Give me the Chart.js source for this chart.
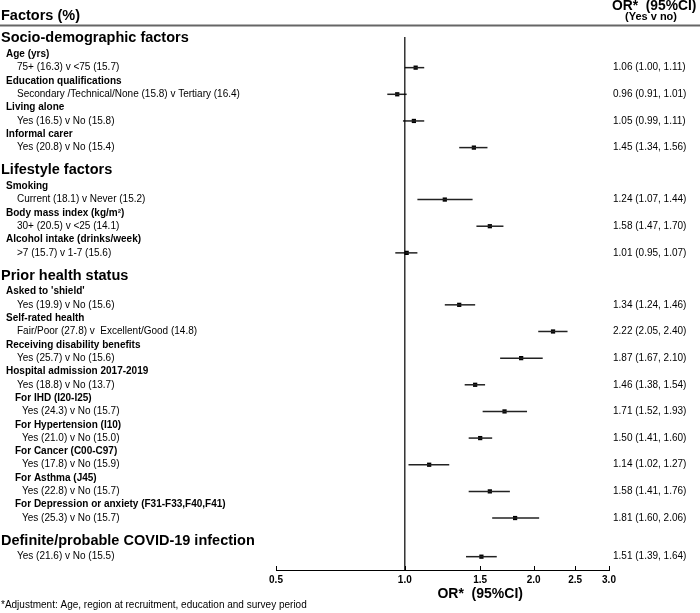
<!DOCTYPE html>
<html>
<head>
<meta charset="utf-8">
<script src="https://cdn.jsdelivr.net/npm/chart.js@4"></script>
<style>
  body { margin: 0; background: #fff; }
</style>
</head>
<body>
<canvas id="forest" width="700" height="613"></canvas>
<script>
const sections = ["Socio-demographic factors", "Lifestyle factors", "Prior health status", "Definite/probable COVID-19 infection"];
const groupLabels = [
    "Age (yrs)", "Education qualifications", "Living alone", "Informal carer",
    "Smoking", "Body mass index (kg/m²)", "Alcohol intake (drinks/week)",
    "Asked to 'shield'", "Self-rated health", "Receiving disability benefits", "Hospital admission 2017-2019",
    "For IHD (I20-I25)", "For Hypertension (I10)", "For Cancer (C00-C97)", "For Asthma (J45)",
    "For Depression or anxiety (F31-F33,F40,F41)",
    "",
];
const comparisons = [
    "75+ (16.3) v <75 (15.7)",
    "Secondary /Technical/None (15.8) v Tertiary (16.4)",
    "Yes (16.5) v No (15.8)",
    "Yes (20.8) v No (15.4)",
    "Current (18.1) v Never (15.2)",
    "30+ (20.5) v <25 (14.1)",
    ">7 (15.7) v 1-7 (15.6)",
    "Yes (19.9) v No (15.6)",
    "Fair/Poor (27.8) v  Excellent/Good (14.8)",
    "Yes (25.7) v No (15.6)",
    "Yes (18.8) v No (13.7)",
    "Yes (24.3) v No (15.7)",
    "Yes (21.0) v No (15.0)",
    "Yes (17.8) v No (15.9)",
    "Yes (22.8) v No (15.7)",
    "Yes (25.3) v No (15.7)",
    "Yes (21.6) v No (15.5)",
];
const sectionIndex = [0, 0, 0, 0, 1, 1, 1, 2, 2, 2, 2, 2, 2, 2, 2, 2, 3];
const subLevel = [0, 0, 0, 0, 0, 0, 0, 0, 0, 0, 0, 1, 1, 1, 1, 1, 0];
const oddsRatio = [1.06, 0.96, 1.05, 1.45, 1.24, 1.58, 1.01, 1.34, 2.22, 1.87, 1.46, 1.71, 1.50, 1.14, 1.58, 1.81, 1.51];
const ciLower = [1.00, 0.91, 0.99, 1.34, 1.07, 1.47, 0.95, 1.24, 2.05, 1.67, 1.38, 1.52, 1.41, 1.02, 1.41, 1.60, 1.39];
const ciUpper = [1.11, 1.01, 1.11, 1.56, 1.44, 1.70, 1.07, 1.46, 2.40, 2.10, 1.54, 1.93, 1.60, 1.27, 1.76, 2.06, 1.64];
const xTicks = [0.5, 1.0, 1.5, 2.0, 2.5, 3.0];

const FONT = "'Liberation Sans', Arial, sans-serif";
const Y_MIN = -0.1;
const Y_MAX = 39.9;

// 텍스트 줄 위치 계산 (줄 단위)
const lines = [];
const itemY = [];
let pos = 0;
let cur = -1;
comparisons.forEach((text, i) => {
    let gap = 1;
    if (sectionIndex[i] !== cur) {
        pos = cur < 0 ? 0 : pos + 1.7;
        cur = sectionIndex[i];
        lines.push({ text: sections[cur], kind: "section", y: pos });
        gap = 1.2;
    }
    if (groupLabels[i]) {
        pos += gap;
        gap = 1;
        lines.push({ text: groupLabels[i], kind: "group", sub: subLevel[i], y: pos });
    }
    pos += gap;
    itemY.push(pos);
    lines.push({ text: text, kind: "item", sub: subLevel[i], y: pos });
});

const ciSets = oddsRatio.map((v, i) => ({
    type: "line",
    data: [
        { x: ciLower[i], y: itemY[i] },
        { x: ciUpper[i], y: itemY[i] },
    ],
    borderColor: "#222",
    borderWidth: 1.5,
    pointRadius: 0,
}));

const forestText = {
    id: "forestText",
    afterDraw(chart) {
        const { ctx, chartArea } = chart;
        const x = chart.scales.x;
        const y = chart.scales.y;
        ctx.save();
        ctx.fillStyle = "#000";

        // 헤더
        ctx.textBaseline = "middle";
        ctx.font = "bold 14.5px " + FONT;
        ctx.textAlign = "left";
        ctx.fillText("Factors (%)", 1, 16);
        ctx.textBaseline = "alphabetic";
        ctx.font = "bold 13.8px " + FONT;
        ctx.fillText("OR*  (95%CI)", 612, 9.5);
        ctx.font = "bold 11px " + FONT;
        ctx.textAlign = "center";
        ctx.fillText("(Yes v no)", 651, 20);
        ctx.strokeStyle = "#666";
        ctx.lineWidth = 2;
        ctx.beginPath();
        ctx.moveTo(0, 25.5);
        ctx.lineTo(700, 25.5);
        ctx.stroke();

        // 왼쪽 라벨
        ctx.textBaseline = "middle";
        ctx.textAlign = "left";
        lines.forEach((ln) => {
            const py = y.getPixelForValue(ln.y);
            if (ln.kind === "section") {
                ctx.font = "bold 14.5px " + FONT;
                ctx.fillText(ln.text, 1, py);
            } else if (ln.kind === "group") {
                ctx.font = "bold 10px " + FONT;
                ctx.fillText(ln.text, ln.sub ? 15 : 6, py);
            } else {
                ctx.font = "10px " + FONT;
                ctx.fillText(ln.text, ln.sub ? 22 : 17, py);
            }
        });

        // 오른쪽 OR 값
        ctx.font = "10px " + FONT;
        oddsRatio.forEach((v, i) => {
            const txt = v.toFixed(2) + " (" + ciLower[i].toFixed(2) + ", " + ciUpper[i].toFixed(2) + ")";
            ctx.fillText(txt, 613, y.getPixelForValue(itemY[i]));
        });

        // 눈금 (위쪽 방향)
        ctx.strokeStyle = "#000";
        ctx.lineWidth = 1;
        xTicks.forEach((t) => {
            const px = Math.round(x.getPixelForValue(t)) + 0.5;
            ctx.beginPath();
            ctx.moveTo(px, chartArea.bottom);
            ctx.lineTo(px, chartArea.bottom - 4);
            ctx.stroke();
        });

        // 축 제목, 각주
        ctx.font = "bold 14px " + FONT;
        ctx.textAlign = "center";
        ctx.fillText("OR*  (95%CI)", x.getPixelForValue(1.5), 594);
        ctx.font = "10px " + FONT;
        ctx.textAlign = "left";
        ctx.fillText("*Adjustment: Age, region at recruitment, education and survey period", 1, 605);
        ctx.restore();
    },
};

const ctx = document.getElementById("forest").getContext("2d");
new Chart(ctx, {
    type: "scatter",
    data: {
        datasets: [
            {
                type: "line",
                data: [
                    { x: 1, y: Y_MIN },
                    { x: 1, y: Y_MAX },
                ],
                borderColor: "#000",
                borderWidth: 1.2,
                pointRadius: 0,
            },
            ...ciSets,
            {
                type: "scatter",
                data: oddsRatio.map((v, i) => ({ x: v, y: itemY[i] })),
                pointStyle: "rect",
                pointRadius: 3,
                backgroundColor: "#000",
                borderColor: "#000",
                borderWidth: 0,
            },
        ],
    },
    options: {
        responsive: false,
        animation: false,
        layout: {
            padding: { left: 276, right: 91, top: 37, bottom: 23 },
        },
        scales: {
            x: {
                type: "logarithmic",
                min: 0.5,
                max: 3,
                afterBuildTicks: (scale) => {
                    scale.ticks = xTicks.map((v) => ({ value: v }));
                },
                grid: { display: false, drawTicks: false },
                border: { display: true, color: "#000", width: 1 },
                ticks: {
                    color: "#000",
                    padding: 4,
                    font: { family: FONT, size: 10, weight: "bold" },
                    callback: (v) => Number(v).toFixed(1),
                },
            },
            y: {
                type: "linear",
                display: false,
                reverse: true,
                min: Y_MIN,
                max: Y_MAX,
            },
        },
        plugins: {
            legend: { display: false },
            tooltip: { enabled: false },
        },
    },
    plugins: [forestText],
});
</script>
</body>
</html>
